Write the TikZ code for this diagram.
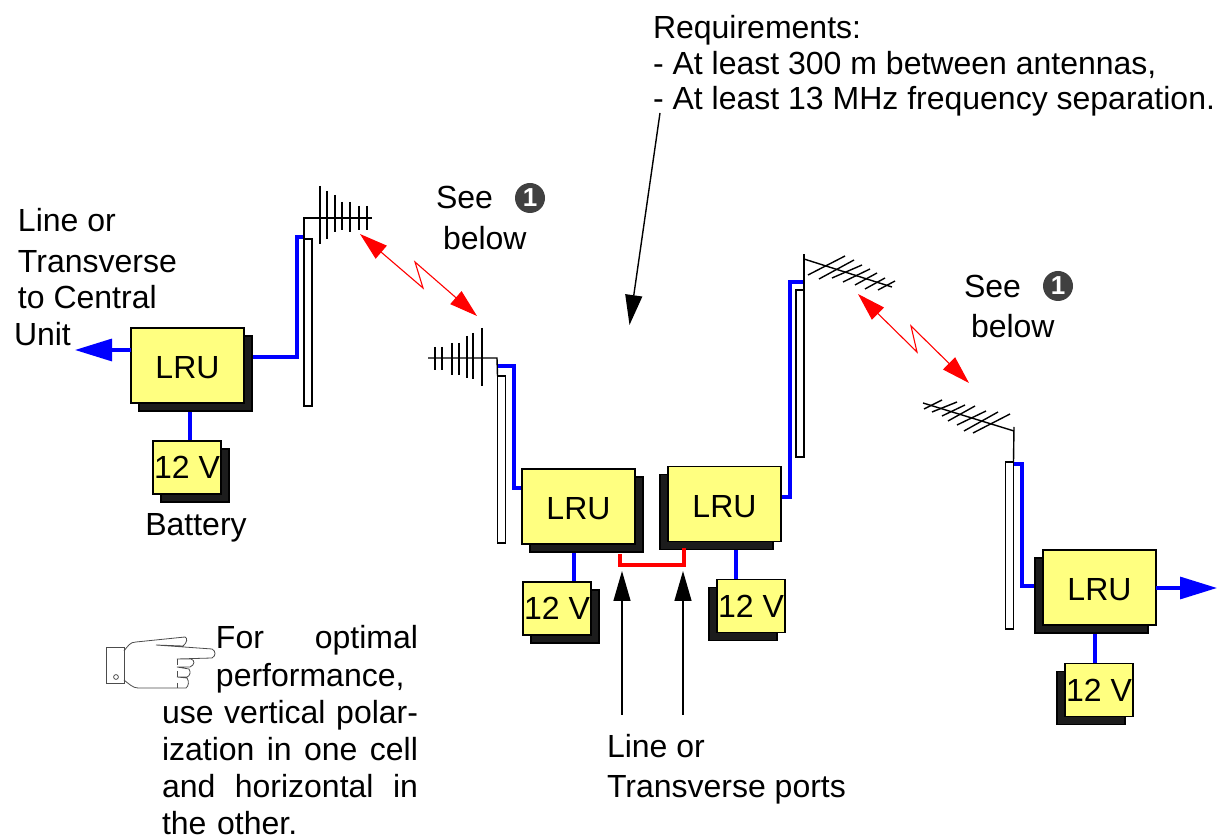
\documentclass[tikz,border=0pt]{standalone}
\usepackage{fontspec}
\setmainfont{Liberation Sans}
\usetikzlibrary{arrows.meta, calc, shadows, backgrounds}

\definecolor{unityellow}{HTML}{FFFF80}
\definecolor{shadowgray}{HTML}{1C1C1C}
\definecolor{signblue}{HTML}{0000FF}
\definecolor{markgray}{HTML}{404040}

\tikzset{
    label16/.style={inner sep=0pt, outer sep=0pt, font=\fontsize{16}{18}\selectfont},
    unitbox/.style={draw=black, line width=0.8pt, fill=unityellow, inner sep=0pt, outer sep=0pt, font=\fontsize{16}{18}\selectfont},
    lrubox/.style={unitbox, minimum width=56.5pt, minimum height=37.5pt, text height=13.5pt, text depth=0pt},
    cellbox/.style={unitbox, minimum width=34pt, minimum height=26.5pt},
    shadowright/.style={general shadow={shadow xshift=4pt, shadow yshift=-4pt, fill=shadowgray, draw=black}},
    shadowleft/.style={general shadow={shadow xshift=-4pt, shadow yshift=-4pt, fill=shadowgray, draw=black}},
    mastbox/.style={draw=black, line width=0.7pt, fill=white, inner sep=0pt, outer sep=0pt, minimum width=4pt, minimum height=83.5pt},
    feed/.style={draw=signblue, line width=1.6pt},
    link/.style={draw=red, line width=1.6pt},
    yagi/.style={draw=black, line width=0.7pt},
    zap/.style={draw=red, line width=0.55pt, {Triangle[length=14pt,width=8.5pt]}-{Triangle[length=14pt,width=8.5pt]}},
    portarrow/.style={draw=black, line width=0.7pt, -{Triangle[length=15pt,width=8.5pt]}},
    outarrow/.style={feed, -{Triangle[length=18.5pt,width=11pt]}},
    notemark/.style={circle, fill=markgray, text=white, inner sep=0pt, outer sep=0pt, minimum size=15pt, font=\fontsize{13}{13}\selectfont\bfseries},
    handline/.style={draw=black!70, line width=0.4pt},
}

\begin{document}
\begin{tikzpicture}[x=0.5pt, y=-0.5pt]
    \useasboundingbox (0,0) rectangle (1223,839);

    % Station A (left)
    \node[lrubox, shadowright] (lruA) at (187.5,365.5) {LRU};
    \node[cellbox, shadowright] (cellA) at (187,467.5) {12 V};
    \node[mastbox] (mastA) at (308,322.5) {};
    \coordinate (bendA) at (297,357);
    \coordinate (topA) at (304,237);
    \coordinate (outA) at (75,350);
    \draw[yagi] (mastA.north west) -- (304,218) -- (372,218);
    \foreach \x/\a/\b in {320/186/244, 327/191/239, 335/195/232, 342/202/230, 350/202/232, 359/206/230, 367/206/230}
        \draw[yagi] (\x,\a) -- (\x,\b);

    % Station B (middle left)
    \node[lrubox, shadowright] (lruB) at (578.5,506.5) {LRU};
    \node[cellbox, shadowright] (cellB) at (557,608.5) {12 V};
    \node[mastbox] (mastB) at (501.5,459.5) {};
    \coordinate (bendB) at (514,488);
    \coordinate (topB) at (497,366);
    \draw[yagi] (mastB.north west) -- (497,358) -- (428,358);
    \foreach \x/\a/\b in {435/347/370, 442/347/370, 452/343/375, 459/343/375, 467/336/378, 473/333/379, 482/328/386}
        \draw[yagi] (\x,\a) -- (\x,\b);

    % Station C (middle right)
    \node[lrubox, shadowleft] (lruC) at (724.5,504) {LRU};
    \node[cellbox, shadowleft] (cellC) at (751,606) {12 V};
    \node[mastbox] (mastC) at (800,373.5) {};
    \coordinate (kneeC) at (790,497);
    \coordinate (topC) at (805,282);
    \draw[yagi] (mastC.north east) -- (804,254);
    \draw[yagi] (804,259) -- (892,287);
    \foreach \a/\b/\c/\d in {808/275/845/256, 819/279/854/260, 832/278/862/265, 843/282/870/269, 855/285/877/273, 865/289/885/278, 878/290/895/281}
        \draw[yagi] (\a,\b) -- (\c,\d);

    % Station D (right)
    \node[lrubox, shadowleft] (lruD) at (1099.5,587.5) {LRU};
    \node[cellbox, shadowleft] (cellD) at (1099,690) {12 V};
    \node[mastbox] (mastD) at (1009.5,545.5) {};
    \coordinate (bendD) at (1022,586);
    \coordinate (topD) at (1014,464);
    \coordinate (outD) at (1217,588);
    \draw[yagi] (mastD.north east) -- (1014,427);
    \draw[yagi] (1014,431) -- (923,403);
    \foreach \a/\b/\c/\d in {924/409/942/400, 932/412/957/402, 942/416/965/405, 948/421/975/406, 957/425/986/411, 964/431/998/412, 973/433/1010/414}
        \draw[yagi] (\a,\b) -- (\c,\d);

    % Blue feeds and the red link stay behind the shadows
    \begin{scope}[on background layer]
        \draw[feed] (lruA.east |- bendA) -- (bendA) |- (topA);
        \draw[feed] ($(cellA.north)+(3,0)$) -- ($(lruA.south)+(2.5,0)$);
        \draw[feed] (lruB.west |- bendB) -- (bendB) |- (topB);
        \draw[feed] ($(cellB.north)+(17,0)$) -- ($(lruB.south)+(-4.5,0)$);
        \draw[feed] (lruC.east |- kneeC) -- (kneeC) |- (topC);
        \draw[feed] ($(cellC.north)+(-15,0)$) -- ($(lruC.south)+(11.5,0)$);
        \draw[feed] (lruD.west |- bendD) -- (bendD) |- (topD);
        \draw[feed] ($(cellD.north)+(-4,0)$) -- ($(lruD.south)+(-4.5,0)$);
    \end{scope}
    \draw[link] ($(lruB.south)+(41.5,10)$) -- ++(0,11) -| ($(lruC.south)+(-40.5,7)$);

    % Outputs to the line
    \draw[outarrow] (lruA.west |- outA) -- (outA);
    \draw[outarrow] (lruD.east |- outD) -- (outD);

    % Radio paths
    \coordinate (zapA1) at (360,234);
    \coordinate (zapA2) at (423,288);
    \coordinate (zapA3) at (415,262);
    \coordinate (zapA4) at (477,316);
    \draw[zap] (zapA1) -- (zapA2) -- (zapA3) -- (zapA4);
    \coordinate (zapB1) at (858,294);
    \coordinate (zapB2) at (917,352);
    \coordinate (zapB3) at (911,326);
    \coordinate (zapB4) at (969,383);
    \draw[zap] (zapB1) -- (zapB2) -- (zapB3) -- (zapB4);

    % Requirements
    \node[label16, anchor=base west, align=left, font=\fontsize{16}{17.8}\selectfont] (reqtext) at (653,110) {Requirements:\\- At least 300 m between antennas,\\- At least 13 MHz frequency separation.};
    \coordinate (reqstart) at (660,113);
    \coordinate (reqtip) at (629.5,325);
    \draw[portarrow] (reqstart) -- (reqtip);

    % Labels of station A
    \node[label16, anchor=base west] (lineA) at (18,232) {Line or};
    \node[label16, anchor=base west] (transA) at (18,273) {Transverse};
    \node[label16, anchor=base west] (centralA) at (18,309) {to Central};
    \node[label16, anchor=base west] (unitA) at (14,346) {Unit};
    \node[label16, anchor=base] (batA) at (196,536) {Battery};

    % See below marks
    \node[label16, anchor=base west] (seeA) at (436,209) {See};
    \node[notemark] (markA) at (530,198) {1};
    \node[label16, anchor=base west] (belowA) at (443,250) {below};
    \node[label16, anchor=base west] (seeB) at (964,298) {See};
    \node[notemark] (markB) at (1058,286) {1};
    \node[label16, anchor=base west] (belowB) at (971,338) {below};

    % Ports
    \coordinate (portL) at (622,571);
    \coordinate (portR) at (683,571);
    \coordinate (portLs) at (622,715);
    \coordinate (portRs) at (683,715);
    \draw[portarrow] (portLs) -- (portL);
    \draw[portarrow] (portRs) -- (portR);
    \node[label16, anchor=base west, align=left, font=\fontsize{16}{20}\selectfont] (porttext) at (607,798) {Line or\\Transverse ports};

    % Pointing hand
    \draw[handline] (106,647) rectangle (124,683);
    \draw[handline] (116,677) circle (2.4);
    \draw[handline] (124,651) .. controls (128,646) and (130,642) .. (136,642) -- (185,637)
        .. controls (188,638) and (187,643) .. (183,646) -- (156,645) -- (212,649)
        .. controls (216,651) and (216,656) .. (212,658) -- (177,659) -- (191,659)
        .. controls (195,660) and (195,665) .. (190,667) -- (177,667) -- (189,669)
        .. controls (191,672) and (190,676) .. (187,677) -- (177,677) -- (187,678)
        .. controls (189,681) and (189,686) .. (186,688) -- (138,688)
        .. controls (133,688) and (129,684) .. (124,680);
    \draw[handline, dashed] (177,659) -- (177,688);

    % Hint text
    \node[label16, anchor=base west, text width=140pt, align=left, font=\fontsize{16}{18.6}\selectfont] (hinttext) at (162,649) {%
        \hspace*{27pt}\makebox[101pt][s]{For\hfill optimal}\\
        \hspace*{27pt}performance,\\
        use vertical polar-\\
        \makebox[128pt][s]{ization\hfill in\hfill one\hfill cell}\\
        \makebox[128pt][s]{and\hfill horizontal\hfill in}\\
        the other.};
\end{tikzpicture}
\end{document}
